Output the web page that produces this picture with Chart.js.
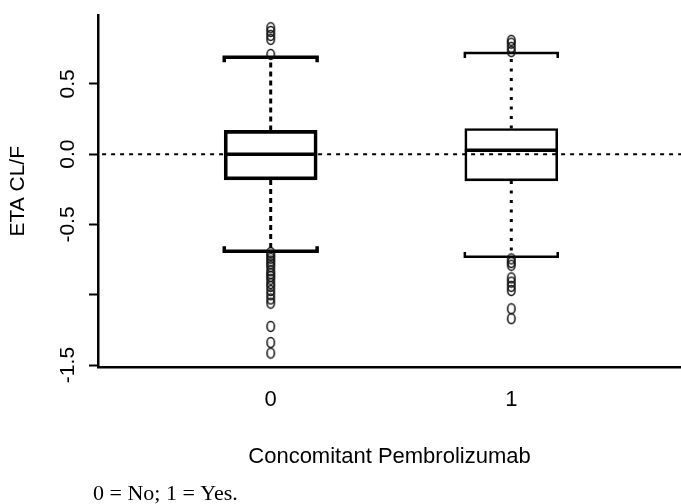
<!DOCTYPE html>
<html>
<head>
<meta charset="utf-8">
<script src="https://cdn.jsdelivr.net/npm/chart.js@4.4.1/dist/chart.umd.min.js"></script>
<style>
  html, body { margin: 0; padding: 0; background: #fff; }
  #wrap { position: relative; width: 681px; height: 504px; }
</style>
</head>
<body>
<div id="wrap"><canvas id="box-chart"></canvas></div>
<script>
// data
const categories = ['0', '1'];
const positions = [1, 2];
const q1 = [-0.183, -0.19];
const median = [0.0, 0.028];
const q3 = [0.169, 0.183];
const whiskerLow = [-0.69, -0.73];
const whiskerHigh = [0.69, 0.72];
const outliers = [
  [0.71, 0.817, 0.845, 0.873, 0.90,
   -0.70, -0.72, -0.74, -0.76, -0.78, -0.80, -0.83, -0.85, -0.87, -0.89,
   -0.92, -0.94, -0.97, -1.00, -1.03, -1.06, -1.225, -1.34, -1.415],
  [0.73, 0.76, 0.79, 0.81,
   -0.745, -0.77, -0.79, -0.88, -0.91, -0.94, -0.97, -1.10, -1.17]
];
const yTicks = [-1.5, -1.0, -0.5, 0.0, 0.5];
const yTickLabels = ['-1.5', '', '-0.5', '0.0', '0.5'];

// styles
const halfBox = 0.193;
const capTick = 0.035;
const boxLine = [3, 2];
const whiskerDash = [[5, 4], [3, 6.5]];
const sansFont = '"Liberation Sans", Arial, sans-serif';

// "o" glyph like marker
function makeRing() {
  const c = document.createElement('canvas');
  c.width = 11; c.height = 13;
  const g = c.getContext('2d');
  g.strokeStyle = '#111';
  g.lineWidth = 1.5;
  g.beginPath();
  g.ellipse(5.5, 6.5, 3.7, 4.9, 0, 0, Math.PI * 2);
  g.stroke();
  return c;
}
const ring = makeRing();

const datasets = [];

// zero reference line
datasets.push({
  type: 'line',
  data: [{ x: 0, y: 0 }, { x: 3, y: 0 }],
  borderColor: '#000', borderWidth: 2, borderDash: [4, 5],
  pointRadius: 0, order: 5
});

positions.forEach((p, i) => {
  // box
  datasets.push({
    type: 'bar',
    data: [{ x: p, y: [q1[i], q3[i]] }],
    backgroundColor: 'rgba(0,0,0,0)',
    borderColor: '#000',
    borderWidth: boxLine[i],
    borderSkipped: false,
    barThickness: 93,
    grouped: false,
    order: 4
  });
  // median
  datasets.push({
    type: 'line',
    data: [{ x: p - halfBox, y: median[i] }, { x: p + halfBox, y: median[i] }],
    borderColor: '#000', borderWidth: 3.5, pointRadius: 0, order: 1
  });
  // whiskers
  datasets.push({
    type: 'line',
    data: [{ x: p, y: q3[i] }, { x: p, y: whiskerHigh[i] }, { x: p, y: null },
           { x: p, y: q1[i] }, { x: p, y: whiskerLow[i] }],
    borderColor: '#000', borderWidth: 3, borderDash: whiskerDash[i],
    pointRadius: 0, spanGaps: false, order: 3
  });
  // staples
  datasets.push({
    type: 'line',
    data: [
      { x: p - halfBox, y: whiskerHigh[i] - capTick }, { x: p - halfBox, y: whiskerHigh[i] },
      { x: p + halfBox, y: whiskerHigh[i] }, { x: p + halfBox, y: whiskerHigh[i] - capTick },
      { x: p, y: null },
      { x: p - halfBox, y: whiskerLow[i] + capTick }, { x: p - halfBox, y: whiskerLow[i] },
      { x: p + halfBox, y: whiskerLow[i] }, { x: p + halfBox, y: whiskerLow[i] + capTick }
    ],
    borderColor: '#000', borderWidth: boxLine[i] + 0.5, pointRadius: 0,
    spanGaps: false, order: 2
  });
  // outliers
  datasets.push({
    type: 'scatter',
    data: outliers[i].map(v => ({ x: p, y: v })),
    pointStyle: ring, pointRadius: 5, order: 0
  });
});

const footnote = {
  id: 'footnote',
  afterDraw(chart) {
    const ctx = chart.ctx;
    ctx.save();
    ctx.fillStyle = '#000';
    ctx.font = '22px "Liberation Serif", "Times New Roman", serif';
    ctx.textBaseline = 'alphabetic';
    ctx.textAlign = 'left';
    ctx.fillText('0 = No; 1 = Yes.', 93, 500);
    ctx.restore();
  }
};

new Chart(document.getElementById('box-chart'), {
  type: 'bar',
  data: { datasets },
  plugins: [footnote],
  options: {
    responsive: true,
    maintainAspectRatio: false,
    animation: false,
    layout: { autoPadding: false, padding: { top: 12, left: 0, right: 0, bottom: 0 } },
    plugins: { legend: { display: false }, tooltip: { enabled: false } },
    scales: {
      x: {
        type: 'linear',
        offset: false,
        min: 0.2822, max: 2.7054,
        afterBuildTicks: s => { s.ticks = positions.map(v => ({ value: v })); },
        afterFit: s => { s.height = 137; },
        grid: { display: false, drawTicks: false },
        border: { display: true, color: '#000', width: 2.5 },
        ticks: {
          color: '#000', padding: 20,
          font: { family: sansFont, size: 22 },
          callback: v => categories[positions.indexOf(v)]
        },
        title: {
          display: true, text: 'Concomitant Pembrolizumab', color: '#000',
          font: { family: sansFont, size: 22 },
          padding: { top: 0, bottom: 34 }
        }
      },
      y: {
        type: 'linear',
        min: -1.514, max: 0.986,
        afterBuildTicks: s => { s.ticks = yTicks.map(v => ({ value: v })); },
        afterFit: s => { s.width = 98; },
        grid: { drawOnChartArea: false, drawTicks: true, tickLength: 9, tickColor: '#000', tickWidth: 2 },
        border: { display: true, color: '#000', width: 2.5 },
        ticks: {
          color: '#000', padding: 3, minRotation: 90, maxRotation: 90,
          crossAlign: 'center',
          font: { family: sansFont, size: 21 },
          callback: v => yTickLabels[yTicks.indexOf(v)]
        },
        title: {
          display: true, text: 'ETA CL/F', color: '#000',
          font: { family: sansFont, size: 21 },
          padding: { top: 6, bottom: 0 }
        }
      }
    }
  }
});
</script>
</body>
</html>
